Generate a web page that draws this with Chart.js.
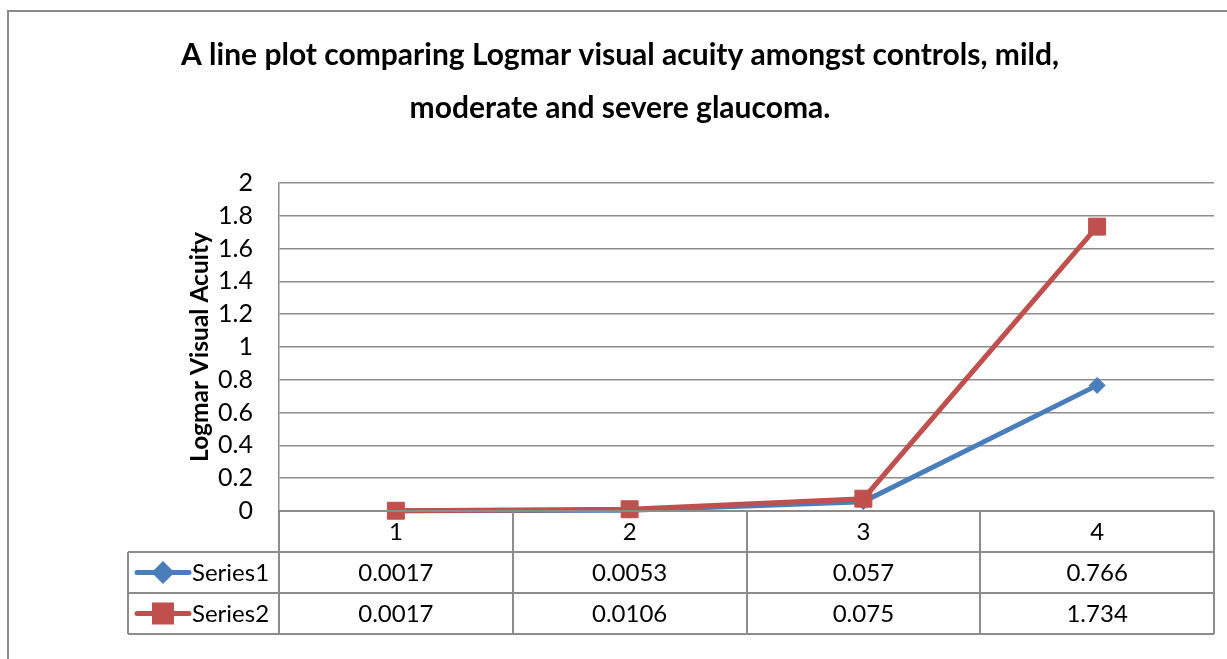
<!DOCTYPE html>
<html>
<head>
<meta charset="utf-8">
<title>Logmar visual acuity</title>
<script src="https://cdn.jsdelivr.net/npm/chart.js@4.4.0/dist/chart.umd.min.js"></script>
<style>
    html, body { margin: 0; padding: 0; background: #fff; }
    #wrap { width: 1227px; height: 659px; position: relative; }
</style>
</head>
<body>
<div id="wrap"><canvas id="acuityChart"></canvas></div>
<script>
// data
const categories = ['1', '2', '3', '4'];
const series1 = [0.0017, 0.0053, 0.057, 0.766];
const series2 = [0.0017, 0.0106, 0.075, 1.734];
const seriesNames = ['Series1', 'Series2'];
const yTickLabels = ['0', '0.2', '0.4', '0.6', '0.8', '1', '1.2', '1.4', '1.6', '1.8', '2'];
const titleLines = ['A line plot comparing Logmar visual acuity amongst controls, mild,', 'moderate and severe glaucoma.'];
const yTitle = 'Logmar Visual Acuity';

const BLUE = '#4a7ebb';
const RED = '#c0504d';
const GRID = '#8c8c8c';
const FONT = 'Lato, "Open Sans", sans-serif';

// outer frame of the chart object
const frame = {
    id: 'frame',
    afterDraw(chart) {
        const c = chart.ctx;
        c.save();
        c.strokeStyle = '#8a8a8a';
        c.lineWidth = 2;
        c.beginPath();
        c.moveTo(8, 659);
        c.lineTo(8, 11);
        c.lineTo(1227, 11);
        c.stroke();
        c.restore();
    }
};

// data table under the x axis (Excel style), with legend keys in the first column
const dataTable = {
    id: 'dataTable',
    afterDraw(chart) {
        const c = chart.ctx;
        const a = chart.chartArea;
        const x = chart.scales.x;
        const rowH = 41;
        const keyLeft = 128;
        const colW = (a.right - a.left) / categories.length;
        const rows = [a.bottom, a.bottom + rowH, a.bottom + rowH * 2, a.bottom + rowH * 3];

        c.save();
        c.strokeStyle = GRID;
        c.lineWidth = 2;
        c.beginPath();
        // vertical lines
        for (let i = 0; i <= categories.length; i++) {
            const px = Math.round(a.left + colW * i);
            c.moveTo(px, a.bottom);
            c.lineTo(px, rows[3]);
        }
        c.moveTo(keyLeft, rows[1]);
        c.lineTo(keyLeft, rows[3]);
        // horizontal lines
        c.moveTo(a.left, rows[0]);
        c.lineTo(a.right, rows[0]);
        for (let r = 1; r <= 3; r++) {
            c.moveTo(keyLeft, rows[r]);
            c.lineTo(a.right, rows[r]);
        }
        c.stroke();

        c.fillStyle = '#000';
        c.font = '24px ' + FONT;
        c.textAlign = 'center';
        c.textBaseline = 'middle';
        categories.forEach((cat, i) => {
            const cx = x.getPixelForValue(i);
            c.fillText(cat, cx, rows[0] + rowH / 2 + 1);
            c.fillText(String(series1[i]), cx, rows[1] + rowH / 2 + 1);
            c.fillText(String(series2[i]), cx, rows[2] + rowH / 2 + 1);
        });

        // legend keys
        const keys = [
            { name: seriesNames[0], color: BLUE, style: 'rectRot', r: 8 },
            { name: seriesNames[1], color: RED, style: 'rect', r: 12 }
        ];
        keys.forEach((k, i) => {
            const cy = rows[i + 1] + rowH / 2;
            c.strokeStyle = k.color;
            c.lineWidth = 5;
            c.lineCap = 'round';
            c.beginPath();
            c.moveTo(137, cy);
            c.lineTo(189, cy);
            c.stroke();
            c.fillStyle = k.color;
            Chart.helpers.drawPoint(c, { pointStyle: k.style, radius: k.r, borderWidth: 1 }, 163, cy);
            c.fillStyle = '#000';
            c.textAlign = 'left';
            c.fillText(k.name, 192, cy + 1);
        });
        c.restore();
    }
};

new Chart(document.getElementById('acuityChart'), {
    type: 'line',
    data: {
        labels: categories,
        datasets: [
            {
                label: seriesNames[0],
                data: series1,
                borderColor: BLUE,
                backgroundColor: BLUE,
                borderWidth: 5,
                pointStyle: 'rectRot',
                pointRadius: 8,
                pointBorderWidth: 1,
                order: 1
            },
            {
                label: seriesNames[1],
                data: series2,
                borderColor: RED,
                backgroundColor: RED,
                borderWidth: 5,
                pointStyle: 'rect',
                pointRadius: 12,
                pointBorderWidth: 1,
                order: 0
            }
        ]
    },
    options: {
        responsive: true,
        maintainAspectRatio: false,
        animation: false,
        clip: false,
        layout: { padding: { left: 20, right: 7, top: 0, bottom: 148 } },
        plugins: {
            legend: { display: false },
            tooltip: { enabled: false },
            title: {
                display: true,
                text: titleLines,
                color: '#000',
                font: { family: FONT, size: 30, weight: 'bold', lineHeight: 53 / 30 },
                padding: { top: 28.5, bottom: 48.5 }
            }
        },
        scales: {
            x: {
                type: 'category',
                offset: true,
                display: false
            },
            y: {
                min: 0,
                max: 2,
                ticks: {
                    stepSize: 0.2,
                    autoSkip: false,
                    color: '#000',
                    padding: 26,
                    font: { family: FONT, size: 25 },
                    callback: (value, i) => yTickLabels[i]
                },
                grid: { color: GRID, lineWidth: 1.5, drawTicks: false },
                border: { color: GRID, width: 1.5 },
                title: {
                    display: true,
                    text: yTitle,
                    color: '#000',
                    font: { family: FONT, size: 24.5, weight: 'bold' },
                    padding: { top: 165, bottom: 0 }
                },
                afterFit(scale) { scale.width = 259; }
            }
        }
    },
    plugins: [frame, dataTable]
});
</script>
</body>
</html>
